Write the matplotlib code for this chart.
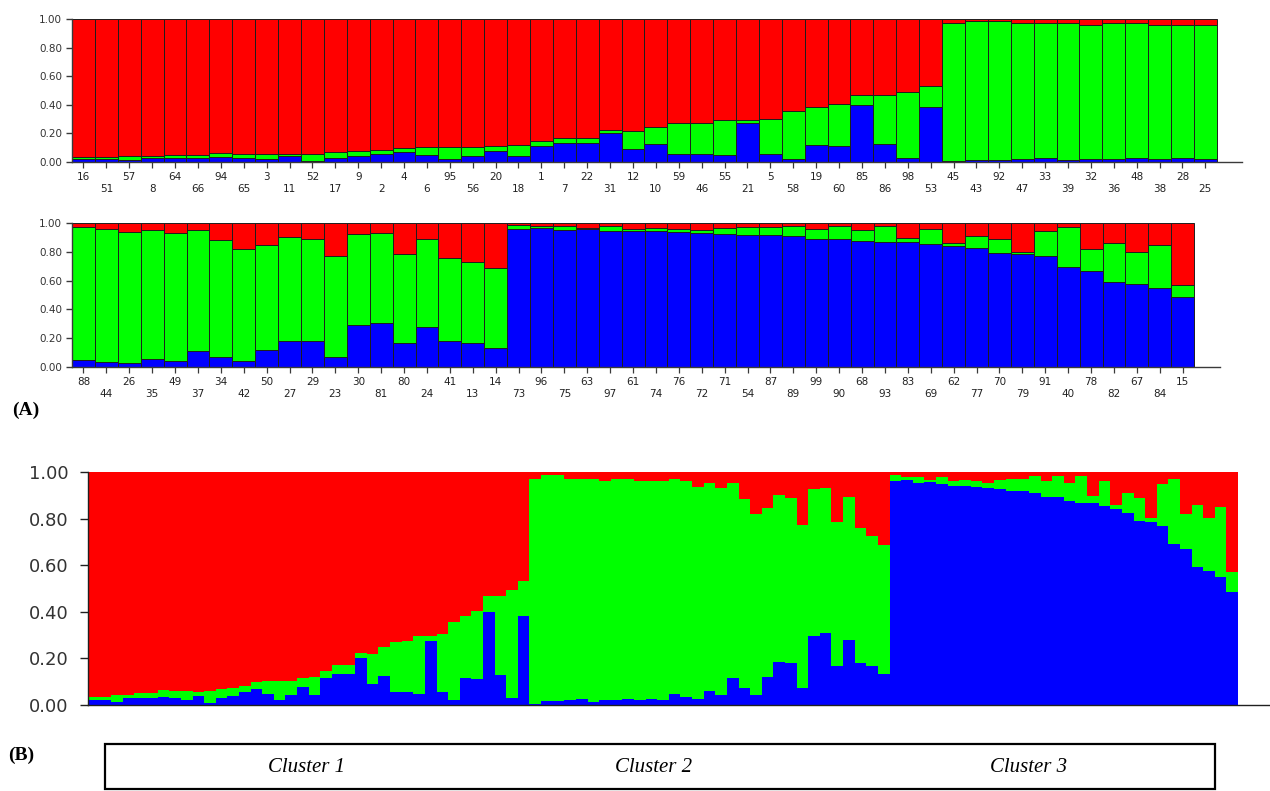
import matplotlib
matplotlib.use("Agg")
import matplotlib.pyplot as plt
from matplotlib.patches import Rectangle
import numpy as np

# ---------------- data ----------------
labels_row1 = ["16", "51", "57", "8", "64", "66", "94", "65", "3", "11", "52", "17", "9",
               "2", "4", "6", "95", "56", "20", "18", "1", "7", "22", "31", "12", "10",
               "59", "46", "55", "21", "5", "58", "19", "60", "85", "86", "98", "53",
               "45", "43", "92", "47", "33", "39", "32", "36", "48", "38", "28", "25"]
blue_row1 = [0.020, 0.020, 0.015, 0.030, 0.028, 0.028, 0.035, 0.028, 0.020, 0.040, 0.008, 0.028, 0.040,
             0.054, 0.070, 0.047, 0.020, 0.042, 0.077, 0.042, 0.115, 0.133, 0.133, 0.200, 0.090, 0.125,
             0.054, 0.054, 0.047, 0.276, 0.054, 0.020, 0.117, 0.112, 0.398, 0.129, 0.028, 0.384,
             0.005, 0.016, 0.016, 0.020, 0.025, 0.015, 0.020, 0.020, 0.025, 0.020, 0.025, 0.020]
green_row1 = [0.015, 0.015, 0.027, 0.012, 0.022, 0.022, 0.028, 0.030, 0.038, 0.016, 0.050, 0.042, 0.035,
              0.028, 0.028, 0.058, 0.085, 0.063, 0.038, 0.078, 0.033, 0.037, 0.037, 0.022, 0.128, 0.123,
              0.216, 0.220, 0.250, 0.021, 0.250, 0.336, 0.265, 0.291, 0.070, 0.339, 0.464, 0.150,
              0.967, 0.972, 0.972, 0.950, 0.945, 0.955, 0.940, 0.950, 0.945, 0.940, 0.935, 0.940]

labels_row2 = ["88", "44", "26", "35", "49", "37", "34", "42", "50", "27", "29", "23", "30",
               "81", "80", "24", "41", "13", "14", "73", "96", "75", "63", "97", "61", "74",
               "76", "72", "71", "54", "87", "89", "99", "90", "68", "93", "83", "69", "62",
               "77", "70", "79", "91", "40", "78", "82", "67", "84", "15"]
blue_row2 = [0.047, 0.033, 0.026, 0.058, 0.044, 0.114, 0.072, 0.044, 0.121, 0.184, 0.179, 0.072, 0.295,
             0.307, 0.167, 0.279, 0.179, 0.167, 0.133, 0.960, 0.965, 0.953, 0.958, 0.947, 0.942, 0.942,
             0.935, 0.930, 0.926, 0.919, 0.919, 0.912, 0.891, 0.891, 0.877, 0.867, 0.867, 0.853, 0.842,
             0.826, 0.791, 0.784, 0.770, 0.693, 0.670, 0.593, 0.577, 0.551, 0.484]
green_row2 = [0.925, 0.927, 0.911, 0.895, 0.886, 0.839, 0.812, 0.775, 0.723, 0.718, 0.709, 0.702, 0.631,
              0.623, 0.617, 0.612, 0.581, 0.559, 0.553, 0.028, 0.012, 0.027, 0.007, 0.030, 0.018, 0.023,
              0.025, 0.023, 0.039, 0.053, 0.053, 0.069, 0.069, 0.090, 0.076, 0.114, 0.028, 0.107, 0.018,
              0.086, 0.097, 0.018, 0.177, 0.277, 0.149, 0.267, 0.225, 0.298, 0.086]

ytick_values = [0.0, 0.2, 0.4, 0.6, 0.8, 1.0]
ytick_labels = ["0.00", "0.20", "0.40", "0.60", "0.80", "1.00"]
cluster_names = ["Cluster 1", "Cluster 2", "Cluster 3"]
panel_names = ["(A)", "(B)"]

RED, GREEN, BLUE = "#ff0000", "#00ff00", "#0000ff"

# ---------------- figure ----------------
W, H = 1270, 791
fig = plt.figure(figsize=(W / 100, H / 100), dpi=100)


def px_axes(x0, y0, x1, y1):
    return fig.add_axes([x0 / W, 1 - y1 / H, (x1 - x0) / W, (y1 - y0) / H])


def style_axes(ax, axis_color, ylab_size, tick_len, pad):
    for s in ("top", "right"):
        ax.spines[s].set_visible(False)
    for s in ("left", "bottom"):
        ax.spines[s].set_color(axis_color)
        ax.spines[s].set_linewidth(1.0)
    ax.set_ylim(0, 1)
    ax.set_yticks(ytick_values)
    ax.set_yticklabels(ytick_labels, fontsize=ylab_size, color="#333333",
                       family="DejaVu Sans")
    ax.tick_params(axis="y", direction="out", length=tick_len, width=1.0,
                   color=axis_color, pad=pad)


def structure_row(ax, labels, blue, green, extra):
    n = len(labels)
    x = np.arange(n)
    b = np.array(blue)
    g = np.array(green)
    r = 1 - b - g
    kw = dict(width=1.0, align="edge", edgecolor="#1e1e1e", linewidth=0.7)
    ax.bar(x, b, color=BLUE, **kw)
    ax.bar(x, g, bottom=b, color=GREEN, **kw)
    ax.bar(x, r, bottom=b + g, color=RED, **kw)
    ax.set_xlim(0, n + extra)
    style_axes(ax, "#3a3a3a", 7.5, 4, 3)
    ax.set_xticks(x + 0.5)
    ax.set_xticklabels([lab if i % 2 == 0 else "\n" + lab for i, lab in enumerate(labels)],
                       fontsize=7.5, color="#222222", linespacing=1.25)
    ax.tick_params(axis="x", direction="out", length=4, width=0.9,
                   color="#3a3a3a", pad=3)


# Panel A, row 1
ax1 = px_axes(72, 19, 1242, 162)
structure_row(ax1, labels_row1, blue_row1, green_row1, 1.1)

# Panel A, row 2
ax2 = px_axes(72, 223, 1220, 367)
structure_row(ax2, labels_row2, blue_row2, green_row2, 1.13)

# Panel B : all individuals in the same order
all_blue = np.array(blue_row1 + blue_row2)
all_green = np.array(green_row1 + green_row2)
all_red = 1 - all_blue - all_green
nb = len(all_blue)
xb = np.arange(nb)
axb = px_axes(88, 472, 1270, 705)
kwb = dict(width=1.0, align="edge", linewidth=0, antialiased=False)
axb.bar(xb, all_blue, color=BLUE, **kwb)
axb.bar(xb, all_green, bottom=all_blue, color=GREEN, **kwb)
axb.bar(xb, all_red, bottom=all_blue + all_green, color=RED, **kwb)
axb.set_xlim(0, nb + 2.75)
style_axes(axb, "#202020", 13, 6, 8)
axb.set_xticks([])

# panel letters
fig.text(12 / W, 1 - 410 / H, panel_names[0], fontsize=14, fontweight="bold",
         family="Liberation Serif", va="center", ha="left")
fig.text(8 / W, 1 - 755 / H, panel_names[1], fontsize=14, fontweight="bold",
         family="Liberation Serif", va="center", ha="left")

# cluster box
box = Rectangle((105 / W, 1 - 789 / H), (1215 - 105) / W, (789 - 744) / H,
                transform=fig.transFigure, fill=False, edgecolor="black", linewidth=1.6)
fig.patches.append(box)
for name, cx in zip(cluster_names, [307, 654, 1029]):
    fig.text(cx / W, 1 - 768 / H, name, fontsize=15, style="italic",
             family="Liberation Serif", ha="center", va="center")

fig.savefig("out.png", dpi=100)
